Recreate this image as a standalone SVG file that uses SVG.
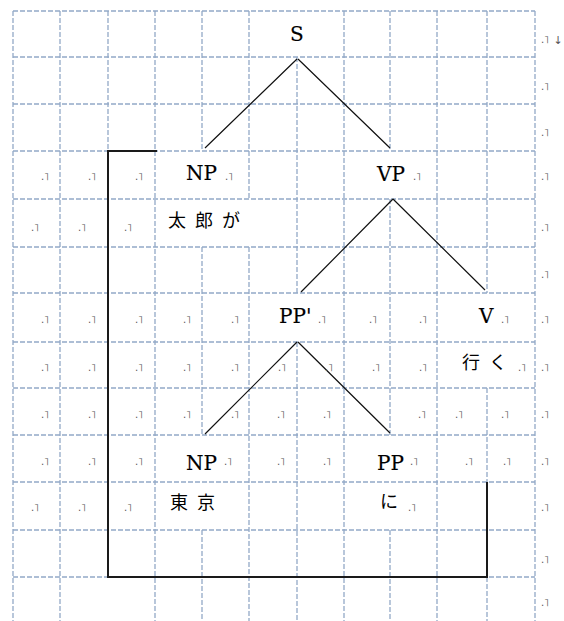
<svg xmlns="http://www.w3.org/2000/svg" width="564" height="621" viewBox="0 0 564 621">
<style>
.g{stroke:#93a9c7;stroke-width:1.3;stroke-dasharray:5 2;fill:none}
.br{stroke:#1a1a1a;stroke-width:2;fill:none}
.e{stroke:#111;stroke-width:1.2;fill:none}
.lb{font-family:"DejaVu Serif","Liberation Serif",serif;font-size:20px;fill:#000;stroke:#000;stroke-width:0.15}
.jp{font-family:"Noto Sans CJK JP","Noto Sans",sans-serif;font-size:18px;letter-spacing:9px;fill:#000}
.m{font-family:"DejaVu Sans","Liberation Sans",sans-serif;font-size:10px;fill:#555;text-anchor:middle}
</style>
<rect width="564" height="621" fill="#fff"/>
<g id="grid">
<path class="g" d="M13 11H535M13 57H535M13 104H535M13 151H535M13 199H535M13 247H535M13 293H535M13 342H535M13 388H535M13 435H535M13 482H535M13 530H535M13 577H535"/>
<path class="g" d="M13 11V621M535 11V621"/>
<path class="g" d="M60 11V621M155 11V621M344 11V621M437 11V621"/>
<path class="g" d="M108 11V151"/>
<path class="g" d="M202 11V151M202 247V435M202 530V621"/>
<path class="g" d="M249 11V199M249 247V621"/>
<path class="g" d="M297 57V293M297 342V621"/>
<path class="g" d="M390 11V151M390 199V435M390 530V621"/>
<path class="g" d="M487 11V293M487 388V482M487 577V621"/>
</g>
<g id="bracket">
<path class="br" d="M157 151H108V577H487V482"/>
</g>
<g id="connectors">
<path class="e" d="M297 59L205 148M298 59L390 148"/>
<path class="e" d="M393 199L301 292M393 199L485 290"/>
<path class="e" d="M297 342L205 434M298 342L390 433"/>
</g>
<g id="node-S"><text class="lb" x="290" y="41">S</text></g>
<g id="node-NP1"><text class="lb" x="186" y="180">NP</text></g>
<g id="node-VP"><text class="lb" x="377" y="181">VP</text></g>
<g id="node-PPp"><text class="lb" x="279" y="323">PP'</text></g>
<g id="node-V"><text class="lb" x="479" y="323">V</text></g>
<g id="node-NP2"><text class="lb" x="186" y="470">NP</text></g>
<g id="node-PP"><text class="lb" x="377" y="470">PP</text></g>
<g id="words">
<text class="jp" x="168" y="227">太郎が</text>
<text class="jp" x="462" y="369">行く</text>
<text class="jp" x="170" y="509">東京</text>
<text class="jp" x="380" y="508">に</text>
</g>
<g id="marks">
<text class="m" x="545" y="43">.˥</text><text class="m" x="558" y="44" style="font-size:11px">↓</text>
<text class="m" x="545" y="90">.˥</text>
<text class="m" x="545" y="136">.˥</text>
<text class="m" x="45" y="180">.˥</text><text class="m" x="92" y="180">.˥</text><text class="m" x="139" y="180">.˥</text><text class="m" x="229" y="180">.˥</text><text class="m" x="417" y="180">.˥</text><text class="m" x="545" y="180">.˥</text>
<text class="m" x="35" y="231">.˥</text><text class="m" x="82" y="231">.˥</text><text class="m" x="128" y="231">.˥</text><text class="m" x="545" y="231">.˥</text>
<text class="m" x="545" y="278">.˥</text>
<text class="m" x="45" y="323">.˥</text><text class="m" x="92" y="323">.˥</text><text class="m" x="139" y="323">.˥</text><text class="m" x="187" y="323">.˥</text><text class="m" x="235" y="323">.˥</text><text class="m" x="322" y="323">.˥</text><text class="m" x="373" y="323">.˥</text><text class="m" x="423" y="323">.˥</text><text class="m" x="505" y="323">.˥</text><text class="m" x="545" y="323">.˥</text>
<text class="m" x="45" y="371">.˥</text><text class="m" x="92" y="371">.˥</text><text class="m" x="139" y="371">.˥</text><text class="m" x="187" y="371">.˥</text><text class="m" x="235" y="371">.˥</text><text class="m" x="282" y="371">.˥</text><text class="m" x="329" y="371">.˥</text><text class="m" x="376" y="371">.˥</text><text class="m" x="423" y="371">.˥</text><text class="m" x="522" y="371">.˥</text><text class="m" x="545" y="371">.˥</text>
<text class="m" x="45" y="418">.˥</text><text class="m" x="92" y="418">.˥</text><text class="m" x="139" y="418">.˥</text><text class="m" x="187" y="418">.˥</text><text class="m" x="235" y="418">.˥</text><text class="m" x="281" y="418">.˥</text><text class="m" x="327" y="418">.˥</text><text class="m" x="422" y="418">.˥</text><text class="m" x="459" y="418">.˥</text><text class="m" x="505" y="418">.˥</text><text class="m" x="545" y="418">.˥</text>
<text class="m" x="45" y="465">.˥</text><text class="m" x="92" y="465">.˥</text><text class="m" x="139" y="465">.˥</text><text class="m" x="228" y="465">.˥</text><text class="m" x="281" y="465">.˥</text><text class="m" x="327" y="465">.˥</text><text class="m" x="414" y="465">.˥</text><text class="m" x="469" y="465">.˥</text><text class="m" x="507" y="465">.˥</text><text class="m" x="545" y="465">.˥</text>
<text class="m" x="35" y="511">.˥</text><text class="m" x="82" y="511">.˥</text><text class="m" x="128" y="511">.˥</text><text class="m" x="412" y="511">.˥</text><text class="m" x="545" y="511">.˥</text>
<text class="m" x="545" y="563">.˥</text>
<text class="m" x="545" y="606">.˥</text>
</g>
</svg>
